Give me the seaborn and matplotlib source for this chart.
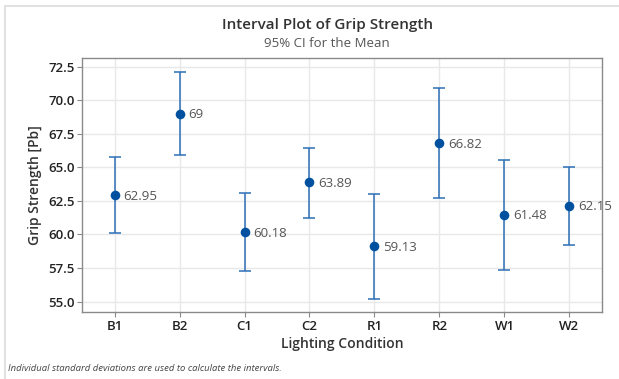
import numpy as np
import pandas as pd
import matplotlib.pyplot as plt
import seaborn as sns
from matplotlib.patches import Rectangle

conditions = ['B1', 'B2', 'C1', 'C2', 'R1', 'R2', 'W1', 'W2']
means = [62.95, 69, 60.18, 63.89, 59.13, 66.82, 61.48, 62.15]
ci_lower = [60.14, 65.95, 57.28, 61.25, 55.20, 62.74, 57.33, 59.22]
ci_upper = [65.80, 72.13, 63.06, 66.44, 62.99, 70.88, 65.57, 65.03]
y_ticks = [55.0, 57.5, 60.0, 62.5, 65.0, 67.5, 70.0, 72.5]

df = pd.DataFrame({'Lighting Condition': conditions, 'Mean': means,
                   'Lower': ci_lower, 'Upper': ci_upper})

sns.set_theme(style='whitegrid')
plt.rcParams['font.family'] = ['Open Sans', 'DejaVu Sans']

fig = plt.figure(figsize=(6.19, 3.79), dpi=100)
ax = fig.add_axes([0.1325, 0.176, 0.8400, 0.672])

line_color = '#2e6fb8'
dot_color = '#0050a0'

# interval bars, then the means on top
yerr = np.array([df['Mean'] - df['Lower'], df['Upper'] - df['Mean']])
ax.errorbar(np.arange(len(conditions)), df['Mean'], yerr=yerr, fmt='none',
            ecolor=line_color, elinewidth=1.1, capsize=4, capthick=1.1, zorder=2)
sns.scatterplot(data=df, x='Lighting Condition', y='Mean', ax=ax, s=48,
                color=dot_color, edgecolor=dot_color, linewidth=0, zorder=3)

for i, m in enumerate(means):
    ax.annotate(f'{m:g}', (i, m), xytext=(6.5, -1), textcoords='offset points',
                ha='left', va='center', fontsize=9.5, color='#555555')

ax.set_xlim(-0.5, 7.5)
ax.set_ylim(54.2, 73.17)
ax.set_yticks(y_ticks)
ax.set_yticklabels([f'{t:.1f}' for t in y_ticks])
ax.grid(True, color='#e8e8e8', linewidth=1)
for s in ax.spines.values():
    s.set_color('#8a8a8a')
    s.set_linewidth(1)
ax.tick_params(axis='both', which='both', length=3.5, width=0.8, color='#8a8a8a',
               labelsize=9.5, labelcolor='#222222', pad=2, left=True, bottom=True)
for t in ax.get_xticklabels() + ax.get_yticklabels():
    t.set_fontweight('semibold')

ax.set_xlabel('Lighting Condition', fontsize=10, fontweight='semibold',
              color='#333333', labelpad=3)
ax.set_ylabel('Grip Strength [Pb]', fontsize=10, fontweight='semibold',
              color='#333333', labelpad=4)

fig.text(0.5285, 0.935, 'Interval Plot of Grip Strength', ha='center', va='center',
         fontsize=11, fontweight='semibold', color='#333333')
fig.text(0.5285, 0.886, '95% CI for the Mean', ha='center', va='center',
         fontsize=9.5, color='#555555')
fig.text(0.013, 0.027, 'Individual standard deviations are used to calculate the intervals.',
         ha='left', va='center', fontsize=6.8, style='italic', color='#444444')

# light frame around the whole panel
fig.patches.append(Rectangle((5 / 619, -0.1), 1.2, 1 - 6 / 379 + 0.1, transform=fig.transFigure,
                             fill=False, edgecolor='#dcdcdc', linewidth=1.2))

fig.savefig('out.png', dpi=100, facecolor='white')
